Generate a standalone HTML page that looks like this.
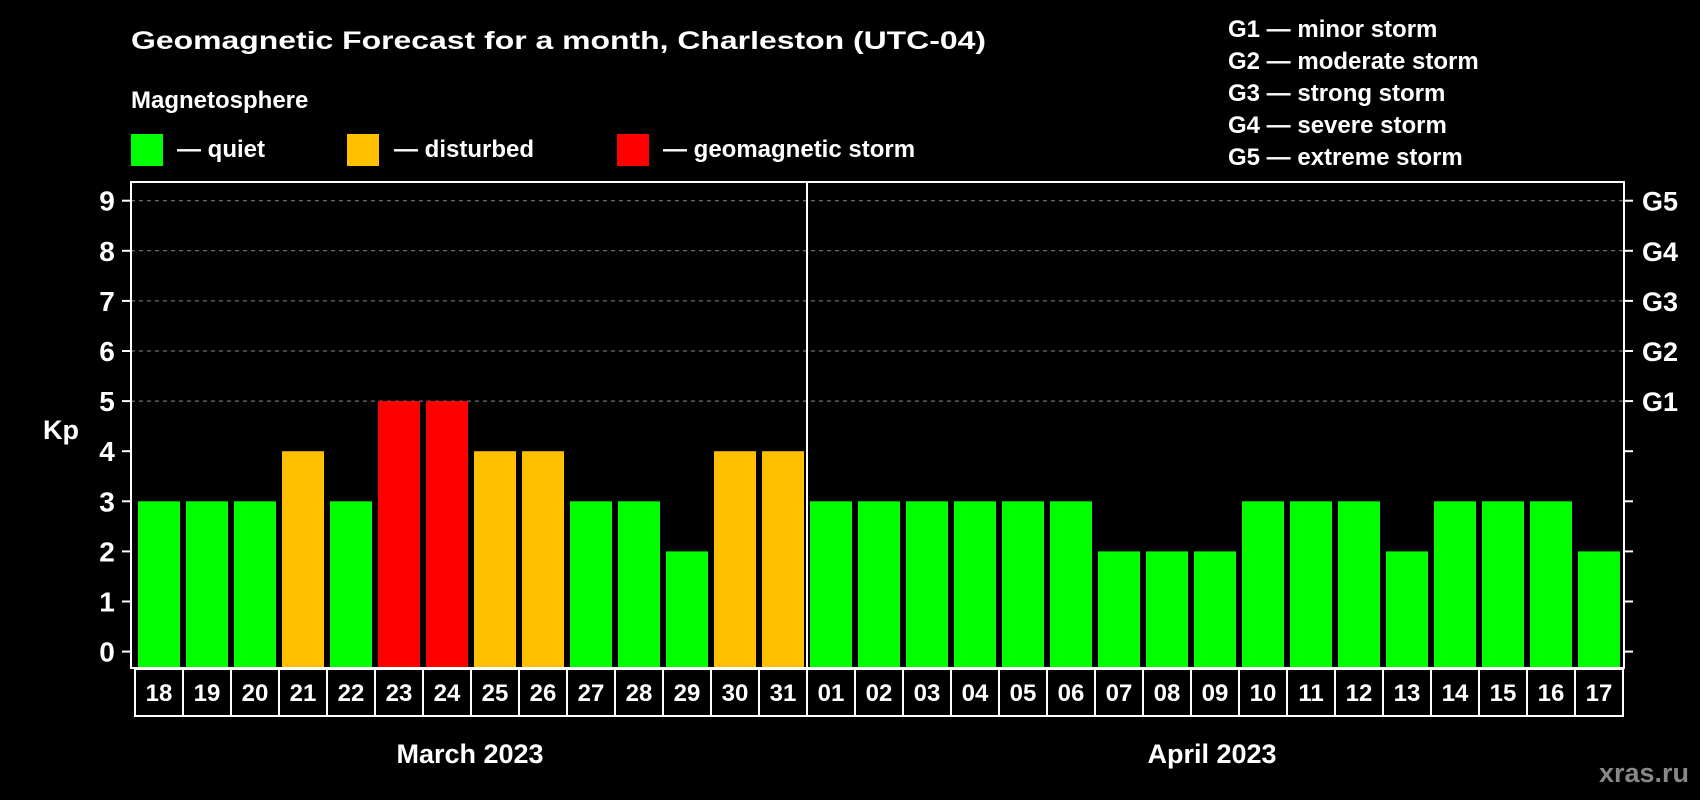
<!DOCTYPE html>
<html><head><meta charset="utf-8"><style>
html,body{margin:0;padding:0;background:#000;}
svg{display:block;font-family:"Liberation Sans",sans-serif;font-weight:bold;}
</style></head><body>
<svg id="chart" width="1700" height="800" viewBox="0 0 1700 800">
<rect width="1700" height="800" fill="#000"/>
<text x="131" y="49" fill="#fff" font-size="25" textLength="855" lengthAdjust="spacingAndGlyphs">Geomagnetic Forecast for a month, Charleston (UTC-04)</text>
<text x="131" y="108" fill="#fff" font-size="24">Magnetosphere</text>
<g><rect x="131" y="134" width="32" height="32" fill="#00ff00"/><text x="177" y="157" fill="#fff" font-size="24">— quiet</text></g>
<g><rect x="347" y="134" width="32" height="32" fill="#ffc000"/><text x="394" y="157" fill="#fff" font-size="24">— disturbed</text></g>
<g><rect x="617" y="134" width="32" height="32" fill="#ff0000"/><text x="663" y="157" fill="#fff" font-size="24">— geomagnetic storm</text></g>
<g fill="#fff" font-size="24">
<text x="1228" y="37">G1 — minor storm</text>
<text x="1228" y="69">G2 — moderate storm</text>
<text x="1228" y="101">G3 — strong storm</text>
<text x="1228" y="133">G4 — severe storm</text>
<text x="1228" y="165">G5 — extreme storm</text>
</g>
<text x="43" y="439" fill="#fff" font-size="27">Kp</text>
<g id="grid"></g>
<g id="bars"></g>
<rect x="131" y="182" width="1493" height="486" fill="none" stroke="#fff" stroke-width="2"/>
<line x1="807" y1="182" x2="807" y2="668" stroke="#fff" stroke-width="2"/>
<g id="ticks"></g>
<g id="dates"></g>
<text x="470" y="763" fill="#fff" font-size="27" text-anchor="middle">March 2023</text>
<text x="1212" y="763" fill="#fff" font-size="27" text-anchor="middle">April 2023</text>
<text x="1689" y="782" fill="#888" font-size="27" text-anchor="end">xras.ru</text>
</svg>
<script>
const days = ["18","19","20","21","22","23","24","25","26","27","28","29","30","31","01","02","03","04","05","06","07","08","09","10","11","12","13","14","15","16","17"];
const kpValues = [3,3,3,4,3,5,5,4,4,3,3,2,4,4,3,3,3,3,3,3,2,2,2,3,3,3,2,3,3,3,2];
const yTicks = [0,1,2,3,4,5,6,7,8,9];
const gLabels = ["G1","G2","G3","G4","G5"];
const gLevels = [5,6,7,8,9];
const NS="http://www.w3.org/2000/svg";
const y0=651.6, unit=50.1;
function yScale(v){return y0 - v*unit;}
function xSlot(i){return 131 + 7 + i*48;}
function color(v){return v>=5?"#ff0000":(v>=4?"#ffc000":"#00ff00");}
function mk(tag,attrs,parent){const e=document.createElementNS(NS,tag);for(const k in attrs)e.setAttribute(k,attrs[k]);parent.appendChild(e);return e;}
const grid=document.getElementById("grid"), bars=document.getElementById("bars"), ticks=document.getElementById("ticks"), dates=document.getElementById("dates");
gLevels.forEach((lv,i)=>{
  const l=mk("line",{x1:131,x2:1624,y1:yScale(lv),y2:yScale(lv),stroke:"#888","stroke-width":1,"stroke-dasharray":"4,4"},grid);
  
  
  const t=mk("text",{x:1642,y:yScale(lv)+10,fill:"#fff","font-size":27},ticks);
  t.textContent=gLabels[i];
  
  
});
yTicks.forEach(v=>{
  const y=yScale(v);
  const a=mk("line",{x1:122,x2:131,y1:y,y2:y,stroke:"#fff","stroke-width":2},ticks);
  
  
  const b=mk("line",{x1:1624,x2:1633,y1:y,y2:y,stroke:"#fff","stroke-width":2},ticks);
  
  
  const t=mk("text",{x:107,y:y+10,fill:"#fff","font-size":28,"text-anchor":"middle"},ticks);
  t.textContent=v;
  
  
});
kpValues.forEach((v,i)=>{
  const r=mk("rect",{x:xSlot(i),y:yScale(v),width:42,height:667-yScale(v),fill:color(v)},bars);
  
  
});
days.forEach((d,i)=>{
  const x=135+i*48;
  const r=mk("rect",{x:x,y:669,width:48,height:47,fill:"#000",stroke:"#fff","stroke-width":2},dates);
  
  
  const t=mk("text",{x:x+24,y:701,fill:"#fff","font-size":24,"text-anchor":"middle"},dates);
  t.textContent=d;
  
  
});
</script>
</body></html>
